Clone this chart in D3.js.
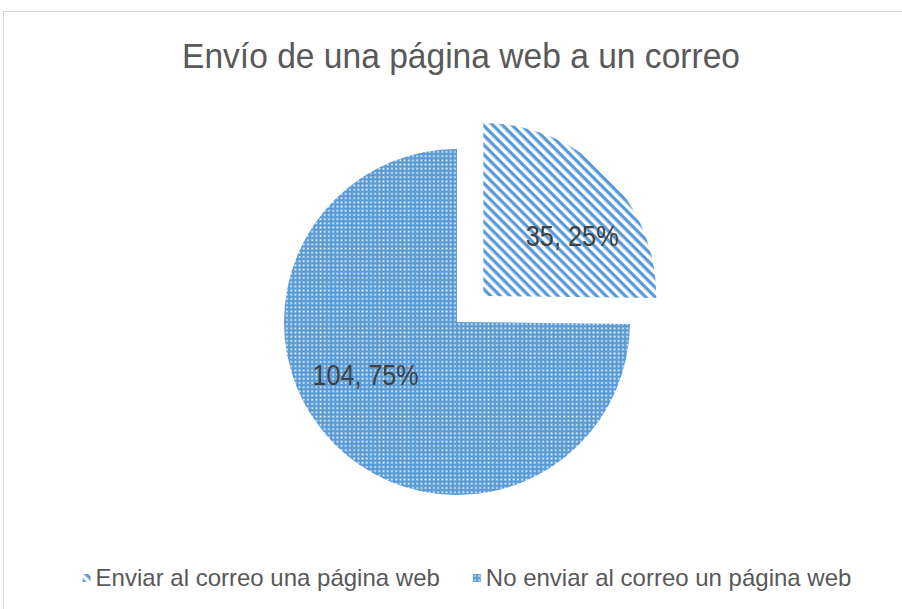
<!DOCTYPE html>
<html>
<head>
<meta charset="utf-8">
<script src="https://cdn.jsdelivr.net/npm/d3@7"></script>
<style>
  html, body { margin: 0; padding: 0; background: #ffffff; }
  svg { display: block; font-family: "Liberation Sans", Arial, sans-serif; }
</style>
</head>
<body>
<svg id="chart" width="902" height="609"></svg>
<script>
// Chart data
const chartTitle = "Envío de una página web a un correo";
const categories = ["Enviar al correo una página web", "No enviar al correo un página web"];
const values = [35, 104];

// Layout
const width = 902, height = 609;
const center = { x: 457, y: 322 };
const radius = 173;
const explode = 37;                 // offset of the first (pulled-out) slice
const blue = "#5B9BD5";
// label anchor of each slice: angle (deg, clockwise from 12 o'clock) and fraction of radius
const labelPlacement = [{ angle: 56, r: 0.62 }, { angle: 240, r: 0.61 }];

const svg = d3.select("#chart");
const defs = svg.append("defs");

// Wide downward diagonal stripes
const sp = 6.8;
const stripes = defs.append("pattern")
  .attr("id", "pat-stripes")
  .attr("patternUnits", "userSpaceOnUse")
  .attr("width", sp).attr("height", sp)
  .attr("patternTransform", "rotate(45)");
stripes.append("rect").attr("width", sp).attr("height", sp).attr("fill", "#ffffff");
stripes.append("rect").attr("y", 0).attr("width", sp).attr("height", 3.3).attr("fill", blue);

// Small grid of white dots on blue
const dp = 4.2;
const dots = defs.append("pattern")
  .attr("id", "pat-dots")
  .attr("patternUnits", "userSpaceOnUse")
  .attr("width", dp).attr("height", dp);
dots.append("rect").attr("width", dp).attr("height", dp).attr("fill", blue);
dots.append("rect").attr("x", 1.3).attr("y", 1.3).attr("width", 1.7).attr("height", 1.7)
  .attr("fill", "#ffffff").attr("opacity", 0.95);

const fills = ["url(#pat-stripes)", "url(#pat-dots)"];

// Chart area frame
svg.append("rect")
  .attr("x", 3.5).attr("y", 11.5)
  .attr("width", width + 10).attr("height", height + 10)
  .attr("fill", "#ffffff").attr("stroke", "#D9D9D9").attr("stroke-width", 1);

// Title
svg.append("text")
  .attr("x", 461).attr("y", 68)
  .attr("text-anchor", "middle")
  .attr("font-size", 35)
  .attr("fill", "#595959")
  .attr("textLength", 558)
  .attr("lengthAdjust", "spacingAndGlyphs")
  .text(chartTitle);

// Pie
const pie = d3.pie().sort(null).value(d => d);
const arcs = pie(values);
const arc = d3.arc().innerRadius(0).outerRadius(radius);
const total = d3.sum(values);
const pct = d3.format(".0%");

const g = svg.append("g").attr("transform", `translate(${center.x},${center.y})`);

const slices = g.selectAll("g.slice").data(arcs).join("g")
  .attr("class", "slice")
  .attr("transform", (d, i) => {
    if (i !== 0) return null;
    const mid = (d.startAngle + d.endAngle) / 2;
    return `translate(${Math.sin(mid) * explode},${-Math.cos(mid) * explode})`;
  });

slices.append("path")
  .attr("d", arc)
  .attr("fill", (d, i) => fills[i]);

// Data labels: "value, percent"
slices.append("text")
  .attr("x", (d, i) => Math.sin(labelPlacement[i].angle * Math.PI / 180) * radius * labelPlacement[i].r)
  .attr("y", (d, i) => -Math.cos(labelPlacement[i].angle * Math.PI / 180) * radius * labelPlacement[i].r)
  .attr("dy", "0.35em")
  .attr("text-anchor", "middle")
  .attr("font-size", 29)
  .attr("fill", "#404040")
  .attr("textLength", (d, i) => i === 0 ? 93 : 106)
  .attr("lengthAdjust", "spacingAndGlyphs")
  .text(d => `${d.data}, ${pct(d.data / total)}`);

// Legend
const legend = svg.append("g").attr("font-size", 24).attr("fill", "#595959");
const legendY = 578;
const items = legend.selectAll("g").data(categories).join("g");
items.append("rect")
  .attr("width", 8).attr("height", 8)
  .attr("y", -4)
  .attr("fill", (d, i) => fills[i]);
items.append("text")
  .attr("x", 13)
  .attr("dy", "0.35em")
  .text(d => d);

// place legend items side by side and centre the group
let xPos = 0;
const gap = 33;
items.each(function () {
  const w = this.getBBox().width;
  d3.select(this).attr("transform", `translate(${xPos},0)`);
  xPos += w + gap;
});
const legendWidth = xPos - gap;
legend.attr("transform", `translate(${467 - legendWidth / 2},${legendY})`);
</script>
</body>
</html>
